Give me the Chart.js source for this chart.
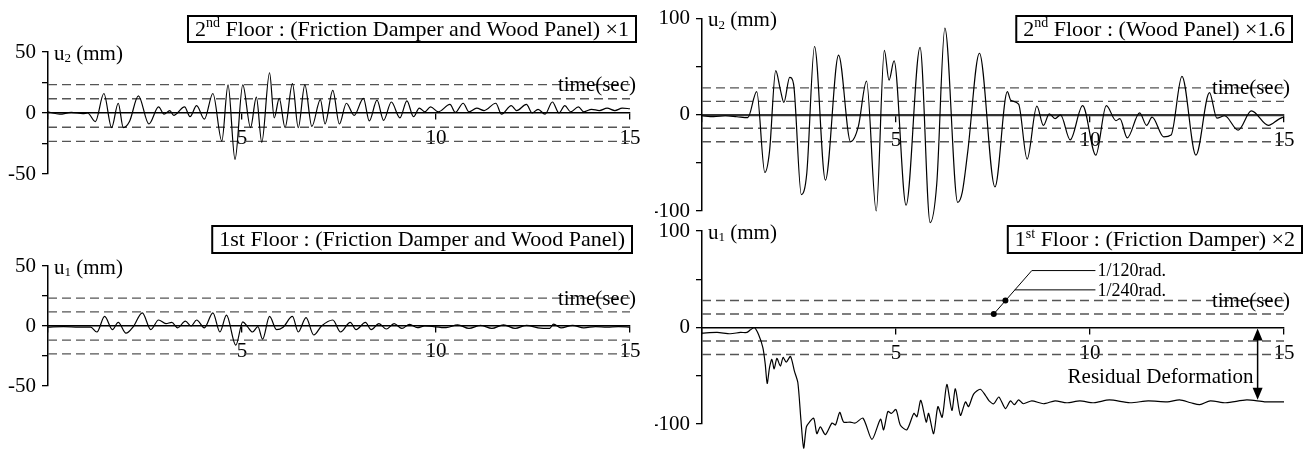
<!DOCTYPE html>
<html>
<head>
<meta charset="utf-8">
<script src="https://cdn.jsdelivr.net/npm/chart.js@4.4.1/dist/chart.umd.min.js"></script>
<style>
  html, body { margin: 0; padding: 0; background: #fff; }
  #wrap { position: relative; width: 1310px; height: 450px; }
  #wrap canvas { position: absolute; left: 0; top: 0; }
</style>
</head>
<body>
<div id="wrap">
  <canvas id="p1" width="1310" height="450"></canvas>
  <canvas id="p2" width="1310" height="450"></canvas>
  <canvas id="p3" width="1310" height="450"></canvas>
  <canvas id="p4" width="1310" height="450"></canvas>
</div>
<script>
// 2nd floor, friction damper + wood panel (top left)
const t1 = [0, 0.3, 0.6, 0.9, 1.02, 1.22, 1.44, 1.64, 1.81, 1.94,
  2.10, 2.33, 2.60, 2.85, 2.99, 3.14, 3.24, 3.52, 3.66, 3.83,
  4.03, 4.25, 4.48, 4.64, 4.82, 5.02, 5.22, 5.37, 5.51, 5.71,
  5.83, 5.96, 6.11, 6.30, 6.45, 6.62, 6.80, 7.02, 7.14, 7.34,
  7.51, 7.69, 7.89, 8.13, 8.28, 8.48, 8.65, 8.85, 9.07, 9.25,
  9.42, 9.57, 9.71, 9.86, 10.06, 10.36, 10.50, 10.70, 10.85, 11.05,
  11.24, 11.54, 11.69, 11.94, 12.08, 12.33, 12.48, 12.63, 12.81, 13.00,
  13.17, 13.32, 13.47, 13.67, 13.81, 14.01, 14.21, 14.41, 14.61, 14.80,
  15.0];
const u1 = [1, -1, 0.5, -0.5, 0, -7, 16, -12, 8, -12,
  -7, 14, -9, 5, -1, 2, -2, 5, -3, 6,
  -5, 16, -23, 23, -38, 23, -12, 13, -24, 33,
  -4, 12, -12, 24, -12, 23, -11, 11, -9, 18.5,
  -9, 8, -2, 12, -6.5, 10.5, -6, 9, -4, 10,
  -3, 4, 1, 5, 1, 7, 0.5, 8, 1, 4,
  2, 8, -1, 6, 2, 7, 0, 3, -1, 9,
  0, 6, 1, 5, 1, 3, 2, 4, 2, 4,
  3.5];

// 2nd floor, wood panel x1.6 (top right)
const t2 = [0, 0.3, 0.6, 0.9, 1.18, 1.41, 1.62, 1.74, 1.90, 2.02,
  2.11, 2.26, 2.36, 2.56, 2.70, 2.90, 3.18, 3.52, 3.83, 4.03,
  4.24, 4.49, 4.70, 4.82, 4.95, 5.26, 5.62, 5.88, 6.05, 6.26,
  6.59, 6.71, 6.85, 7.15, 7.55, 7.87, 7.96, 8.16, 8.38, 8.63,
  8.80, 8.95, 9.10, 9.24, 9.49, 9.81, 10.15, 10.42, 10.67, 10.77,
  10.96, 11.28, 11.46, 11.60, 11.90, 12.09, 12.37, 12.73, 13.08, 13.27,
  13.47, 13.82, 14.16, 14.60, 14.85, 15.0];
const u2 = [-1, -2, -1, -2, -3, 24, -60, -38, 46, 26,
  13, 39, 32, -83, -61, 71, -68, 62, -28, -12,
  35, -100, 67, 36, 56, -94, 70, -112, -72, 90,
  -91, -80, -38, 64, -75, 24, 15, 11, -46, 9,
  -11, 1, -4, 0, -26, 9.5, -42, 9.5, -6, -4,
  -24, 2, -11, -2.5, -23, -21, 40, -42, 23, -3.5,
  -1, -16, 4, -11, -5, -2];

// 1st floor, friction damper + wood panel (bottom left)
const t3 = [0, 0.4, 0.8, 1.1, 1.26, 1.46, 1.66, 1.81, 2.01, 2.20,
  2.43, 2.65, 2.85, 3.04, 3.19, 3.34, 3.54, 3.69, 3.83, 4.03,
  4.25, 4.43, 4.60, 4.84, 5.02, 5.14, 5.27, 5.41, 5.53, 5.71,
  5.89, 6.06, 6.30, 6.45, 6.65, 6.85, 7.05, 7.34, 7.54, 7.79,
  7.94, 8.18, 8.33, 8.53, 8.72, 8.92, 9.12, 9.32, 9.52, 9.71,
  10.26, 10.56, 10.85, 11.15, 11.44, 11.74, 12.04, 12.33, 12.63, 12.93,
  13.03, 13.22, 13.52, 13.81, 14.11, 14.41, 14.70, 15.0];
const u3 = [-1, -0.5, -1, -1, -5, 8, -3, 3, -6, -0.5,
  11, -3, 5, 2, 3, -1.5, 4, 0, 5, -1.5,
  11, -5, 9, -16, 3.5, -0.5, -5, -0.5, -11, 8,
  -3, -1, 8, -5, 7, -7.5, 0, 5, -5, 3,
  -3, 3, -3, 2, -2.5, 2, -2, 1.4, -1.4, 0,
  -1.4, 1, -2, 0.5, -2, 1, -2, 0.5, -1.5, -2,
  1.5, -1.5, 0.5, -1.5, -0.5, -1, -0.5, -1];

// 1st floor, friction damper x2 (bottom right)
const t4 = [0, 0.39, 0.73, 0.99, 1.16, 1.25, 1.35, 1.46, 1.57, 1.63,
  1.68, 1.74, 1.80, 1.86, 1.93, 2.02, 2.09, 2.17, 2.28, 2.38,
  2.47, 2.55, 2.62, 2.69, 2.77, 2.88, 2.96, 3.05, 3.18, 3.35,
  3.44, 3.55, 3.65, 3.82, 3.95, 4.15, 4.38, 4.60, 4.68, 4.79,
  4.88, 5.00, 5.11, 5.28, 5.46, 5.54, 5.64, 5.78, 5.84, 5.97,
  6.08, 6.19, 6.31, 6.44, 6.53, 6.66, 6.79, 6.87, 7.00, 7.17,
  7.30, 7.40, 7.52, 7.65, 7.82, 7.95, 8.05, 8.16, 8.28, 8.50,
  8.80, 9.10, 9.40, 9.74, 10.10, 10.50, 11.03, 11.50, 12.00, 12.31,
  12.60, 12.83, 13.10, 13.50, 14.04, 14.50, 15.0];
const u4 = [-5.8, -5.1, -6.5, -5.1, -5.1, -2.4, 0, -7.5, -21, -38,
  -58, -41.5, -33, -43, -32, -40, -31, -36, -30, -45,
  -57, -96, -125, -103, -98, -94, -110, -103, -111, -99,
  -101, -88, -98, -98, -99, -94, -116, -95, -106, -87,
  -89, -85, -101, -106, -89, -92.5, -75.5, -98, -89, -110,
  -82, -93, -59, -86, -63.5, -91, -77, -82, -69, -64,
  -70, -76, -79, -72, -84, -76, -80, -75, -79, -76,
  -79, -76, -78, -76, -78, -75, -78, -76, -77, -75,
  -78, -80, -76, -78, -75, -77, -77];

// drift limit lines (1/240 rad, 1/120 rad)
const driftLeft = [11.7, 23.3];
const driftRight = [14, 28];

// leader lines for the drift labels (bottom right)
const leader120T = [7.52, 8.5, 10.14];
const leader120U = [14, 59, 59];
const leader240T = [8.06, 10.14];
const leader240U = [39, 39];
const dot240 = { t: 7.82, u: 28 };
const residualT = 14.32;
const residualU = -76;

const FONT = "'Liberation Serif', 'Times New Roman', serif";
Chart.defaults.font.family = FONT;
Chart.defaults.font.size = 21;
Chart.defaults.color = '#000';

function pts(ts, us) {
  return ts.map((t, i) => ({ x: t, y: us[i] }));
}

function richRun(ctx, parts, x, y, size, draw) {
  let cx = x;
  for (const [txt, mode] of parts) {
    const s = mode ? Math.round(size * 0.62) : size;
    ctx.font = s + 'px ' + FONT;
    const dy = mode === 'sub' ? size * 0.22 : mode === 'sup' ? -size * 0.3 : 0;
    if (draw) ctx.fillText(txt, cx, y + dy);
    cx += ctx.measureText(txt).width;
  }
  return cx - x;
}

const textPlugin = {
  id: 'panelText',
  afterDraw(chart, args, o) {
    const { ctx, chartArea: a, scales: { x, y } } = chart;
    ctx.save();
    ctx.fillStyle = '#000';
    ctx.textBaseline = 'middle';
    ctx.textAlign = 'left';
    // y axis title with subscript
    richRun(ctx, [['u'], [o.sub, 'sub'], [' (mm)']], a.left + 6, a.top + 2, 21, true);
    // time(sec)
    ctx.font = '21px ' + FONT;
    ctx.textAlign = 'right';
    ctx.fillText('time(sec)', a.right + 6, y.getPixelForValue(o.timeAt) + 1);
    // title box
    ctx.textAlign = 'left';
    const w = richRun(ctx, o.title, 0, 0, 22, false);
    const b = o.box;
    const bx = b.right - w - 14;
    ctx.lineWidth = 2;
    ctx.strokeStyle = '#000';
    ctx.strokeRect(bx, b.top, w + 14, b.h);
    richRun(ctx, o.title, bx + 7, b.top + b.h / 2 + 1, 22, true);
    if (o.extra) {
      ctx.font = '18px ' + FONT;
      ctx.textAlign = 'left';
      ctx.fillText('1/120rad.', x.getPixelForValue(leader120T[2]) + 2, y.getPixelForValue(leader120U[2]) + 1);
      ctx.fillText('1/240rad.', x.getPixelForValue(leader240T[1]) + 2, y.getPixelForValue(leader240U[1]) + 1);
      const ax = x.getPixelForValue(residualT);
      const y0 = y.getPixelForValue(0) + 1;
      const y1 = y.getPixelForValue(residualU) - 1;
      ctx.lineWidth = 1.5;
      ctx.beginPath();
      ctx.moveTo(ax, y0 + 10);
      ctx.lineTo(ax, y1 - 10);
      ctx.stroke();
      ctx.beginPath();
      ctx.moveTo(ax, y0); ctx.lineTo(ax - 5, y0 + 12); ctx.lineTo(ax + 5, y0 + 12); ctx.closePath();
      ctx.moveTo(ax, y1); ctx.lineTo(ax - 5, y1 - 12); ctx.lineTo(ax + 5, y1 - 12); ctx.closePath();
      ctx.fill();
      ctx.font = '21px ' + FONT;
      ctx.textAlign = 'right';
      ctx.fillText('Residual Deformation', ax - 4, y.getPixelForValue(-52));
    }
    ctx.restore();
  }
};

function makePanel(id, p) {
  const datasets = [{
    data: pts(p.t, p.u),
    borderColor: '#000',
    borderWidth: 1.2,
    pointRadius: 0,
    cubicInterpolationMode: p.monotone ? 'monotone' : 'default',
    tension: p.monotone ? 0 : 0.25,
    clip: false
  }];
  for (const d of p.drift) {
    for (const v of [d, -d]) {
      datasets.push({
        data: [{ x: 0, y: v }, { x: 15, y: v }],
        borderColor: '#555',
        borderWidth: 1.3,
        borderDash: [9, 5],
        pointRadius: 0
      });
    }
  }
  if (p.extra) {
    datasets.unshift(
      { data: pts(leader120T, leader120U), borderColor: '#000', borderWidth: 1, pointRadius: [3, 0, 0], pointBackgroundColor: '#000', pointBorderWidth: 0, clip: false },
      { data: pts(leader240T, leader240U), borderColor: '#000', borderWidth: 1, pointRadius: 0, clip: false },
      { data: [{ x: dot240.t, y: dot240.u }], showLine: false, pointRadius: 3, pointBackgroundColor: '#000', pointBorderWidth: 0 }
    );
  }
  const yMax = p.yMax;
  new Chart(document.getElementById(id), {
    type: 'line',
    data: { datasets },
    options: {
      responsive: false,
      animation: false,
      events: [],
      layout: { padding: p.pad },
      plugins: {
        legend: { display: false },
        tooltip: { enabled: false },
        panelText: { sub: p.sub, title: p.title, box: p.box, timeAt: p.drift[1], extra: p.extra }
      },
      scales: {
        x: {
          type: 'linear', min: 0, max: 15,
          position: { y: 0 },
          afterFit(s) { s.height = 0; },
          ticks: { stepSize: 5, autoSkip: false, maxRotation: 0, padding: 7,
            callback: v => (v === 0 ? '' : String(v)) },
          grid: { drawOnChartArea: false, tickLength: 6, color: '#000', lineWidth: 1.3 },
          border: { color: p.zeroColor, width: p.zeroWidth }
        },
        y: {
          min: -yMax, max: yMax,
          position: 'left',
          afterFit(s) { s.width = p.axisW; },
          ticks: { stepSize: yMax / 2, autoSkip: false, padding: 6,
            callback: v => (v % yMax === 0 ? String(v) : '') },
          grid: { drawOnChartArea: false, tickLength: 6, color: '#000', lineWidth: 1.3 },
          border: { color: '#000', width: 1.5 }
        }
      }
    },
    plugins: [textPlugin]
  });
}

makePanel('p1', {
  t: t1, u: u1, monotone: true, yMax: 50, drift: driftLeft, sub: '2',
  pad: { left: 0, right: 680, top: 52, bottom: 276 }, axisW: 48,
  title: [['2'], ['nd', 'sup'], [' Floor : (Friction Damper and Wood Panel) ×1']],
  box: { right: 636, top: 16, h: 26 }, zeroColor: '#000', zeroWidth: 1.5
});
makePanel('p2', {
  t: t2, u: u2, monotone: true, yMax: 100, drift: driftRight, sub: '2',
  pad: { left: 655, right: 26, top: 17, bottom: 239 }, axisW: 47,
  title: [['2'], ['nd', 'sup'], [' Floor : (Wood Panel) ×1.6']],
  box: { right: 1292, top: 16, h: 26 }, zeroColor: '#333', zeroWidth: 2.2
});
makePanel('p3', {
  t: t3, u: u3, monotone: true, yMax: 50, drift: driftLeft, sub: '1',
  pad: { left: 0, right: 680, top: 266, bottom: 64 }, axisW: 48,
  title: [['1st Floor : (Friction Damper and Wood Panel)']],
  box: { right: 632, top: 226, h: 27 }, zeroColor: '#000', zeroWidth: 1.5
});
makePanel('p4', {
  t: t4, u: u4, monotone: false, yMax: 100, drift: driftRight, sub: '1',
  pad: { left: 655, right: 26, top: 231, bottom: 26 }, axisW: 47,
  title: [['1'], ['st', 'sup'], [' Floor : (Friction Damper) ×2']],
  box: { right: 1302, top: 226, h: 27 }, zeroColor: '#000', zeroWidth: 1.5,
  extra: true
});
</script>
</body>
</html>
